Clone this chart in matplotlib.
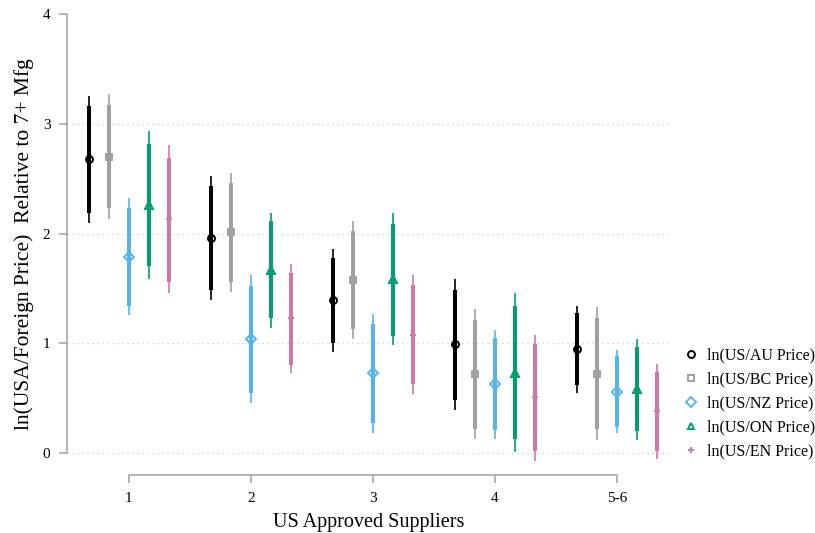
import numpy as np
import matplotlib
matplotlib.use("Agg")
import matplotlib.pyplot as plt

plt.rcParams['font.family'] = ['Liberation Serif', 'DejaVu Serif']

# groups on the x axis
groups = ["1", "2", "3", "4", "5-6"]
series = ["ln(US/AU Price)", "ln(US/BC Price)", "ln(US/NZ Price)", "ln(US/ON Price)", "ln(US/EN Price)"]

# point estimates per series (one value per group)
est_au = [2.68, 1.96, 1.39, 0.99, 0.95]
est_bc = [2.70, 2.01, 1.58, 0.72, 0.72]
est_nz = [1.79, 1.04, 0.73, 0.63, 0.56]
est_on = [2.26, 1.67, 1.59, 0.73, 0.58]
est_en = [2.13, 1.23, 1.08, 0.51, 0.38]

# inner (thick) interval
lo90_au = [2.19, 1.49, 1.00, 0.48, 0.62]
hi90_au = [3.16, 2.43, 1.78, 1.49, 1.28]
lo90_bc = [2.23, 1.56, 1.13, 0.22, 0.22]
hi90_bc = [3.17, 2.46, 2.02, 1.21, 1.23]
lo90_nz = [1.34, 0.55, 0.27, 0.21, 0.24]
hi90_nz = [2.23, 1.52, 1.18, 1.05, 0.88]
lo90_on = [1.70, 1.23, 1.07, 0.13, 0.20]
hi90_on = [2.82, 2.11, 2.09, 1.34, 0.97]
lo90_en = [1.56, 0.80, 0.63, 0.02, 0.02]
hi90_en = [2.69, 1.64, 1.53, 0.99, 0.74]

# outer (thin) interval
lo95_au = [2.10, 1.39, 0.92, 0.39, 0.55]
hi95_au = [3.25, 2.52, 1.86, 1.59, 1.34]
lo95_bc = [2.13, 1.47, 1.04, 0.13, 0.12]
hi95_bc = [3.27, 2.55, 2.11, 1.31, 1.33]
lo95_nz = [1.26, 0.46, 0.18, 0.13, 0.18]
hi95_nz = [2.32, 1.62, 1.27, 1.12, 0.94]
lo95_on = [1.59, 1.14, 0.98, 0.01, 0.12]
hi95_on = [2.93, 2.19, 2.19, 1.46, 1.04]
lo95_en = [1.46, 0.73, 0.54, -0.07, -0.05]
hi95_en = [2.81, 1.72, 1.62, 1.08, 0.81]

est = [est_au, est_bc, est_nz, est_on, est_en]
lo90 = [lo90_au, lo90_bc, lo90_nz, lo90_on, lo90_en]
hi90 = [hi90_au, hi90_bc, hi90_nz, hi90_on, hi90_en]
lo95 = [lo95_au, lo95_bc, lo95_nz, lo95_on, lo95_en]
hi95 = [hi95_au, hi95_bc, hi95_nz, hi95_on, hi95_en]

colors = ["#000000", "#a0a0a0", "#56b4e9", "#009e73", "#cc79a7"]
markers = ["o", "s", "D", "^", "+"]
msizes = [5, 5, 4.6, 5.4, 5]
offsets = [-0.328, -0.164, 0.0, 0.164, 0.328]

fig = plt.figure(figsize=(8.15, 5.33), dpi=100)
ax = fig.add_axes([67 / 815, 1 - 475 / 533, (670 - 67) / 815, (475 - 14) / 533])

xpos = np.arange(1, len(groups) + 1)

# dotted guides
for v in [0, 1, 2, 3]:
    ax.axhline(v, color="#c8c8c8", lw=0.9, ls=(0, (1, 3)), zorder=0)

for i in range(len(series)):
    x = xpos + offsets[i]
    ax.vlines(x, lo95[i], hi95[i], color=colors[i], lw=1.2, zorder=2)
    ax.vlines(x, lo90[i], hi90[i], color=colors[i], lw=2.9, zorder=3)
    ax.plot(x, est[i], ls="none", marker=markers[i], ms=msizes[i],
            mfc="none" if markers[i] != "+" else colors[i],
            mec=colors[i], mew=1.4, zorder=4)

ax.set_xlim(0.492, 5.434)
ax.set_ylim(-0.2, 4.0)

for s in ["top", "right"]:
    ax.spines[s].set_visible(False)
ax.spines["left"].set_bounds(0, 4)
ax.spines["bottom"].set_bounds(1, 5)
for s in ["left", "bottom"]:
    ax.spines[s].set_color("#a8a8a8")
    ax.spines[s].set_linewidth(1.2)

ax.set_yticks([0, 1, 2, 3, 4])
ax.set_yticklabels(["0", "1", "2", "3", "4"])
ax.set_xticks(xpos)
ax.set_xticklabels(groups)
ax.tick_params(axis="both", colors="#a8a8a8", labelcolor="black", labelsize=11, length=6, width=1.2, pad=6)

ax.set_xlabel("US Approved Suppliers", fontsize=14.5, labelpad=6)
ax.set_ylabel("ln(USA/Foreign Price)  Relative to 7+ Mfg", fontsize=15.5, labelpad=6)

leg_handles = []
for i in range(len(series)):
    lh, = ax.plot([], [], ls="none", marker=markers[i], ms=5,
                  mfc="white" if markers[i] != "+" else colors[i],
                  mec=colors[i], mew=1.4, label=series[i])
    leg_handles.append(lh)
fig.legend(handles=leg_handles, loc="lower left", bbox_to_anchor=(678 / 815, 1 - 466 / 533),
           frameon=False, fontsize=11.5, handlelength=0.8, handletextpad=0.6,
           labelspacing=0.5, borderaxespad=0)

fig.savefig("out.png", dpi=100)
